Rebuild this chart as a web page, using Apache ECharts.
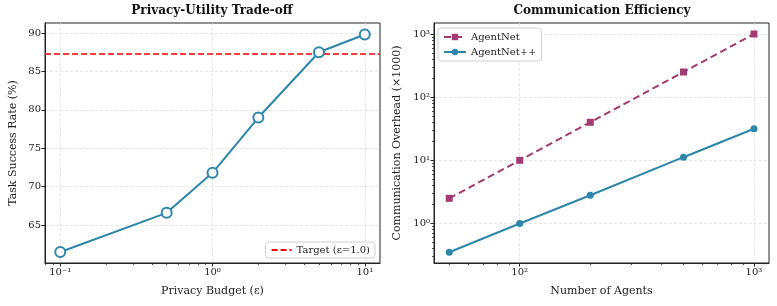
<!DOCTYPE html>
<html>
<head>
<meta charset="utf-8">
<script src="https://cdn.jsdelivr.net/npm/echarts@6/dist/echarts.min.js"></script>
<style>
html,body{margin:0;padding:0;background:#fff;}
#c{width:777px;height:306px;}
</style>
</head>
<body>
<div id="c"></div>
<script>
// ---- data ----
const privacyBudget = [0.1, 0.5, 1.0, 2.0, 5.0, 10.0];
const successRate = [61.5, 66.6, 71.8, 79.0, 87.5, 89.8];
const targetRate = 87.3;
const targetLabel = 'Target (ε=1.0)';

const numAgents = [50, 100, 200, 500, 1000];
const agentNet = [2.5, 10, 40, 250, 1000];
const agentNetPP = [0.35, 1.0, 2.8, 11.2, 31.6];

const leftXTicks = [0.1, 1, 10];
const leftXMinor = [0.08, 0.09, 0.2, 0.3, 0.4, 0.5, 0.6, 0.7, 0.8, 0.9, 2, 3, 4, 5, 6, 7, 8, 9];
const leftYTicks = [65, 70, 75, 80, 85, 90];
const rightXTicks = [100, 1000];
const rightXMinor = [50, 60, 70, 80, 90, 200, 300, 400, 500, 600, 700, 800, 900];
const rightYTicks = [1, 10, 100, 1000];
const rightYMinor = [0.3, 0.4, 0.5, 0.6, 0.7, 0.8, 0.9, 2, 3, 4, 5, 6, 7, 8, 9, 20, 30, 40, 50, 60, 70, 80, 90, 200, 300, 400, 500, 600, 700, 800, 900];

// ---- styles ----
const FONT = 'DejaVu Serif';
const BLUE = '#2E86AB';
const MAG = '#A23B72';
const TXT = '#222';
const sup = {'-': '⁻', '0': '⁰', '1': '¹', '2': '²', '3': '³', '4': '⁴', '5': '⁵'};
function pow10Label(v) {
  const e = String(Math.round(Math.log10(v)));
  return '10' + e.split('').map(ch => sup[ch]).join('');
}
const gridLine = {show: true, lineStyle: {color: '#e0e0e0', type: [3, 2], width: 0.8}};
const axLine = {show: true, lineStyle: {color: TXT, width: 1}};
const labelStyle = {color: TXT, fontFamily: FONT, fontSize: 10};
const nameStyle = {color: TXT, fontFamily: FONT, fontSize: 11};

function logAxis(gridIndex, min, max, ticks, name, gap, extra) {
  return Object.assign({
    type: 'log', gridIndex, min, max, logBase: 10,
    name, nameLocation: 'middle', nameGap: gap, nameTextStyle: nameStyle,
    axisLine: axLine,
    axisTick: {show: true, length: 3.5, lineStyle: {color: TXT, width: 1}, customValues: ticks},
    axisLabel: Object.assign({}, labelStyle, {customValues: ticks, formatter: pow10Label, margin: 4}),
    splitLine: gridLine,
    minorTick: {show: false}, minorSplitLine: {show: false}
  }, extra || {});
}
function minorAxis(gridIndex, min, max, ticks, pos) {
  return {
    type: 'log', gridIndex, min, max, logBase: 10, position: pos,
    axisLine: {show: false},
    axisTick: {show: true, length: 2, lineStyle: {color: TXT, width: 0.8}, customValues: ticks},
    axisLabel: {show: false},
    splitLine: {show: false}
  };
}

const chart = echarts.init(document.getElementById('c'), null, {renderer: 'canvas'});
const option = {
  animation: false,
  backgroundColor: '#fff',
  title: [
    {text: 'Privacy-Utility Trade-off', left: 212, top: 5, padding: 0, textAlign: 'center',
     textStyle: {fontFamily: FONT, fontSize: 12, fontWeight: 'bold', color: '#111'}},
    {text: 'Communication Efficiency', left: 602, top: 5, padding: 0, textAlign: 'center',
     textStyle: {fontFamily: FONT, fontSize: 12, fontWeight: 'bold', color: '#111'}}
  ],
  grid: [
    {left: 45, top: 23, width: 335, height: 240, show: true, borderColor: TXT, borderWidth: 1, backgroundColor: 'transparent'},
    {left: 434, top: 23, width: 335, height: 240, show: true, borderColor: TXT, borderWidth: 1, backgroundColor: 'transparent'}
  ],
  legend: [
    {data: [{name: targetLabel, itemStyle: {opacity: 0}}], right: 402, bottom: 48, orient: 'vertical',
     backgroundColor: '#fff', borderColor: '#d0d0d0', borderWidth: 1, borderRadius: 3,
     padding: [3, 5, 3, 5], itemWidth: 20, itemHeight: 8, itemGap: 4,
     textStyle: {fontFamily: FONT, fontSize: 10, color: TXT}},
    {data: ['AgentNet', 'AgentNet++'], left: 438, top: 28, orient: 'vertical',
     backgroundColor: '#fff', borderColor: '#d0d0d0', borderWidth: 1, borderRadius: 3,
     padding: [4, 5, 4, 5], itemWidth: 22, itemHeight: 8, itemGap: 5,
     textStyle: {fontFamily: FONT, fontSize: 10, color: TXT}}
  ],
  xAxis: [
    logAxis(0, 0.0794, 12.59, leftXTicks, 'Privacy Budget (ε)', 23),
    logAxis(1, 43.05, 1159, rightXTicks, 'Number of Agents', 23),
    minorAxis(0, 0.0794, 12.59, leftXMinor, 'bottom'),
    minorAxis(1, 43.05, 1159, rightXMinor, 'bottom')
  ],
  yAxis: [
    {type: 'value', gridIndex: 0, min: 60.07, max: 91.3,
     name: 'Task Success Rate (%)', nameLocation: 'middle', nameGap: 26, nameTextStyle: nameStyle,
     axisLine: axLine,
     axisTick: {show: true, length: 3.5, lineStyle: {color: TXT, width: 1}, customValues: leftYTicks},
     axisLabel: Object.assign({}, labelStyle, {customValues: leftYTicks, margin: 4}),
     splitLine: gridLine},
    logAxis(1, 0.2366, 1493, rightYTicks, 'Communication Overhead (×1000)', 31),
    minorAxis(1, 0.2366, 1493, rightYMinor, 'left')
  ],
  series: [
    {name: 'Privacy', type: 'line', xAxisIndex: 0, yAxisIndex: 0,
     data: privacyBudget.map((x, i) => [x, successRate[i]]),
     symbol: 'circle', symbolSize: 10,
     itemStyle: {color: '#fff', borderColor: BLUE, borderWidth: 2},
     lineStyle: {color: BLUE, width: 2}, z: 5},
    {name: targetLabel, type: 'line', xAxisIndex: 0, yAxisIndex: 0, data: [],
     symbol: 'none', itemStyle: {color: '#ff0000'},
     lineStyle: {color: '#ff0000', width: 1.5, type: [6, 3]},
     markLine: {silent: true, symbol: 'none', label: {show: false},
       lineStyle: {color: '#ff0000', width: 1.5, type: [6, 3]},
       data: [{yAxis: targetRate}]}},
    {name: 'AgentNet', type: 'line', xAxisIndex: 1, yAxisIndex: 1,
     data: numAgents.map((x, i) => [x, agentNet[i]]),
     symbol: 'rect', symbolSize: 7,
     itemStyle: {color: MAG},
     lineStyle: {color: MAG, width: 2, type: [7, 4]}},
    {name: 'AgentNet++', type: 'line', xAxisIndex: 1, yAxisIndex: 1,
     data: numAgents.map((x, i) => [x, agentNetPP[i]]),
     symbol: 'circle', symbolSize: 7,
     itemStyle: {color: BLUE},
     lineStyle: {color: BLUE, width: 2}}
  ]
};
chart.setOption(option);
</script>
</body>
</html>
